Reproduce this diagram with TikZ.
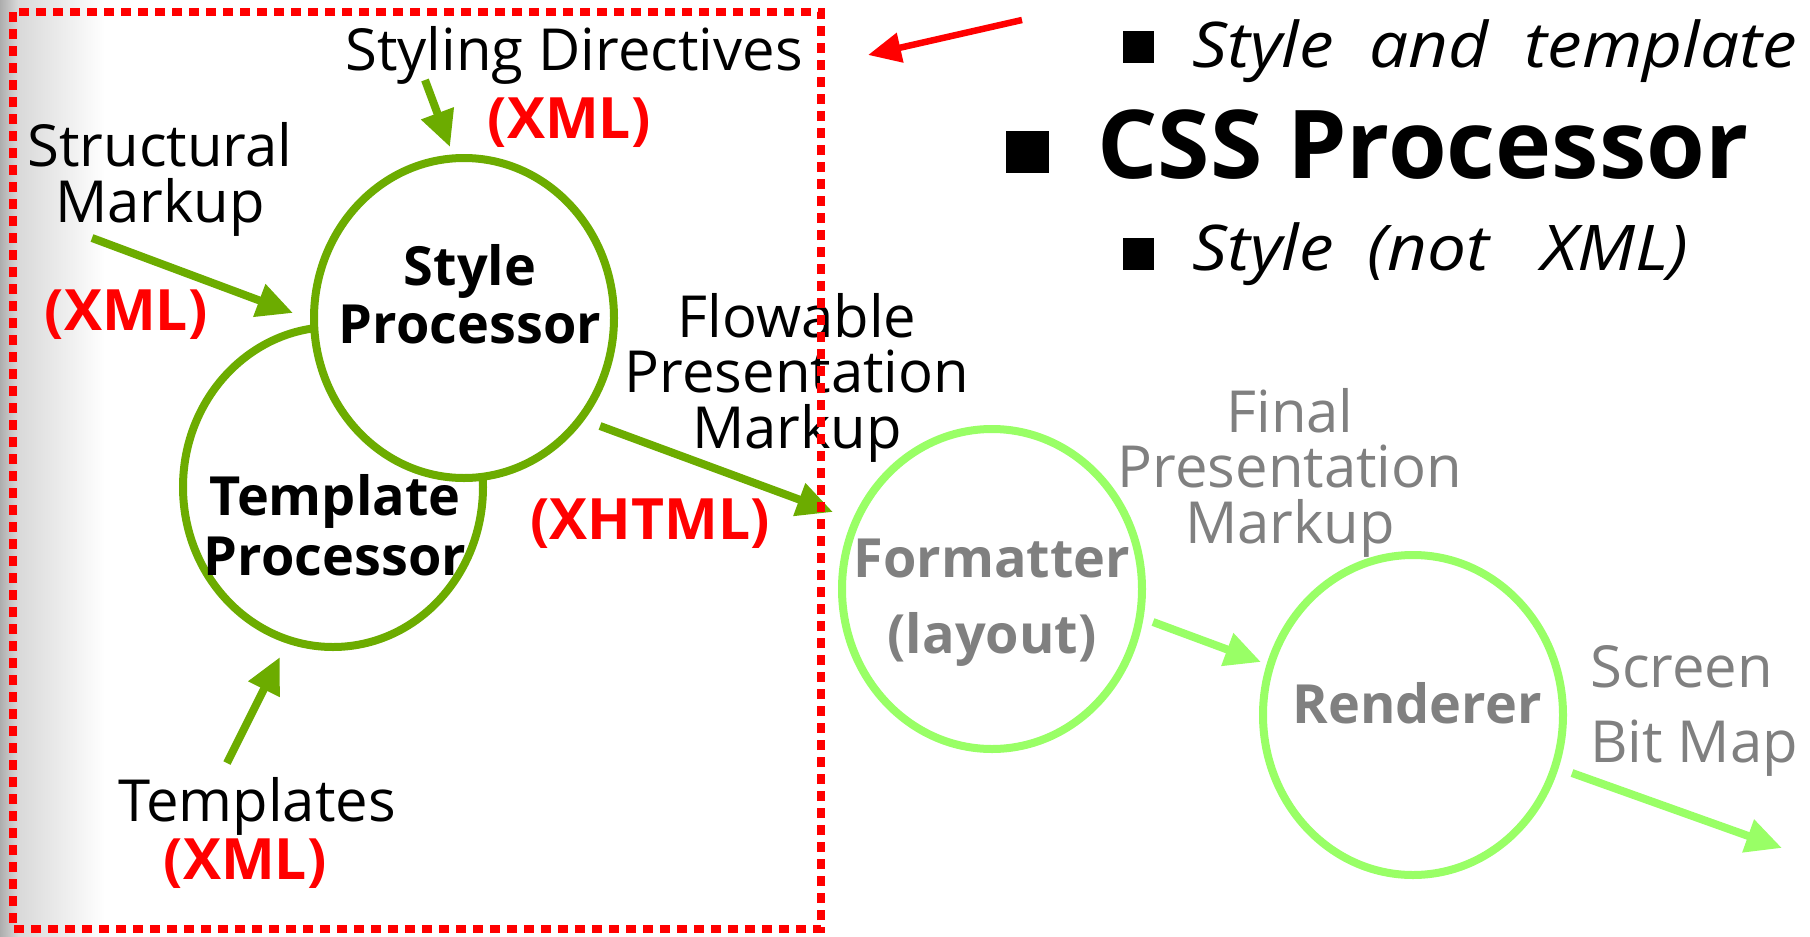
\documentclass[tikz,border=0pt]{standalone}
\usepackage{fontspec}
\setmainfont{Open Sans}
\newfontfamily\bulletfont{Open Sans}[FakeStretch=1.1]
\usetikzlibrary{arrows.meta,shapes.geometric}
\definecolor{olivegr}{RGB}{108,172,0}
\definecolor{lightgr}{RGB}{153,255,102}
\definecolor{txtgray}{RGB}{128,128,128}
\definecolor{xred}{RGB}{255,0,0}
\begin{document}
\begin{tikzpicture}[x=1pt,y=-1pt,
  lbl/.style={font=\fontsize{58}{55.5}\selectfont, align=center, inner sep=0pt, anchor=base},
  lblgray/.style={lbl, text=txtgray},
  tag/.style={font=\fontsize{57}{60}\selectfont\bfseries, text=xred, inner sep=0pt, anchor=base},
  proc/.style={ellipse, line width=8pt, minimum width=300pt, minimum height=320pt, inner sep=0pt, fill=white},
  proctext/.style={font=\fontsize{54}{58}\selectfont\bfseries, align=center, inner sep=0pt, anchor=base},
  flowarr/.style={line width=8pt, -{Triangle[length=36pt,width=33pt]}},
  bulletsq/.style={rectangle, fill=black, draw=none, inner sep=0pt, anchor=north west},
  bullettext/.style={inner sep=0pt, anchor=base west},
]
\useasboundingbox (0,0) rectangle (1810,937);
% page-edge shadow
\shade[left color=black!32, right color=black!15] (0,0) rectangle (18,937);
\shade[left color=black!15, right color=white] (18,0) rectangle (105,937);

% processors
\node[proc, draw=olivegr] (tproc) at (333,487) {};
\node[proc, draw=olivegr] (sproc) at (464,318) {};
\node[proc, draw=lightgr] (fmt) at (992,589) {};
\node[proc, draw=lightgr] (rnd) at (1413,715) {};

\node[proctext] (sproct) at (470,343) {Style\\Processor};
\node[proctext, font=\fontsize{54}{60}\selectfont\bfseries] (tproct) at (335,575) {Template\\Processor};
\node[proctext, text=txtgray, font=\fontsize{54}{76}\selectfont\bfseries] (fmtt) at (992,653) {Formatter\\(layout)};
\node[proctext, text=txtgray] (rndt) at (1417,723) {Renderer};

% labels
\node[lbl] (sd) at (574,70) {Styling Directives};
\node[tag] (sdx) at (569,138) {(XML)};
\node[lbl] (sm) at (160,222) {Structural\\Markup};
\node[tag] (smx) at (126,330) {(XML)};
\node[lbl] (fpm) at (797,448) {Flowable\\Presentation\\Markup};
\node[tag] (fpmx) at (650,539) {(XHTML)};
\node[lbl] (tpl) at (257,821) {Templates};
\node[tag] (tplx) at (245,879) {(XML)};
\node[lblgray] (fin) at (1290,543) {Final\\Presentation\\Markup};
\node[lblgray, align=left, anchor=base west, font=\fontsize{58}{75}\selectfont] (sbm) at (1590,762) {Screen\\Bit Map};

% arrows
\coordinate (a1s) at (425,80);  \coordinate (a1e) at (450,147);
\coordinate (a2s) at (92,238);  \coordinate (a2e) at (293,313);
\coordinate (a3s) at (227,763); \coordinate (a3e) at (280,657);
\coordinate (a4s) at (600,426); \coordinate (a4e) at (833,512);
\coordinate (a5s) at (1153,622); \coordinate (a5e) at (1261,662);
\coordinate (a6s) at (1572,773); \coordinate (a6e) at (1782,848);
\draw[flowarr, olivegr] (a1s) -- (a1e);
\draw[flowarr, olivegr] (a2s) -- (a2e);
\draw[flowarr, olivegr] (a3s) -- (a3e);
\draw[flowarr, olivegr] (a4s) -- (a4e);
\draw[flowarr, lightgr] (a5s) -- (a5e);
\draw[flowarr, lightgr] (a6s) -- (a6e);

% bullets
\node[bulletsq, minimum width=31pt, minimum height=32pt] (b1) at (1123,31) {};
\node[bullettext, font=\bulletfont\fontsize{63}{63}\selectfont\itshape] (t1) at (1192,67) {\spaceskip=36pt Style and template};
\node[bulletsq, minimum width=43pt, minimum height=42pt] (b2) at (1006,131) {};
\node[bullettext, font=\fontsize{95}{95}\selectfont\bfseries] (t2) at (1097,178) {CSS Processor};
\node[bulletsq, minimum width=31pt, minimum height=32pt] (b3) at (1123,238) {};
\node[bullettext, font=\bulletfont\fontsize{63}{63}\selectfont\itshape] (t3) at (1192,270) {\spaceskip=34pt Style (not\hspace{52pt}XML)};

% red arrow
\coordinate (r1s) at (1022,20); \coordinate (r1e) at (868,55);
\draw[line width=6.5pt, xred, -{Triangle[length=33pt,width=29pt]}] (r1s) -- (r1e);

% dashed frame
\draw[xred, line width=8pt, dash pattern=on 10pt off 7pt] (13,12) rectangle (821,929);
\end{tikzpicture}
\end{document}
